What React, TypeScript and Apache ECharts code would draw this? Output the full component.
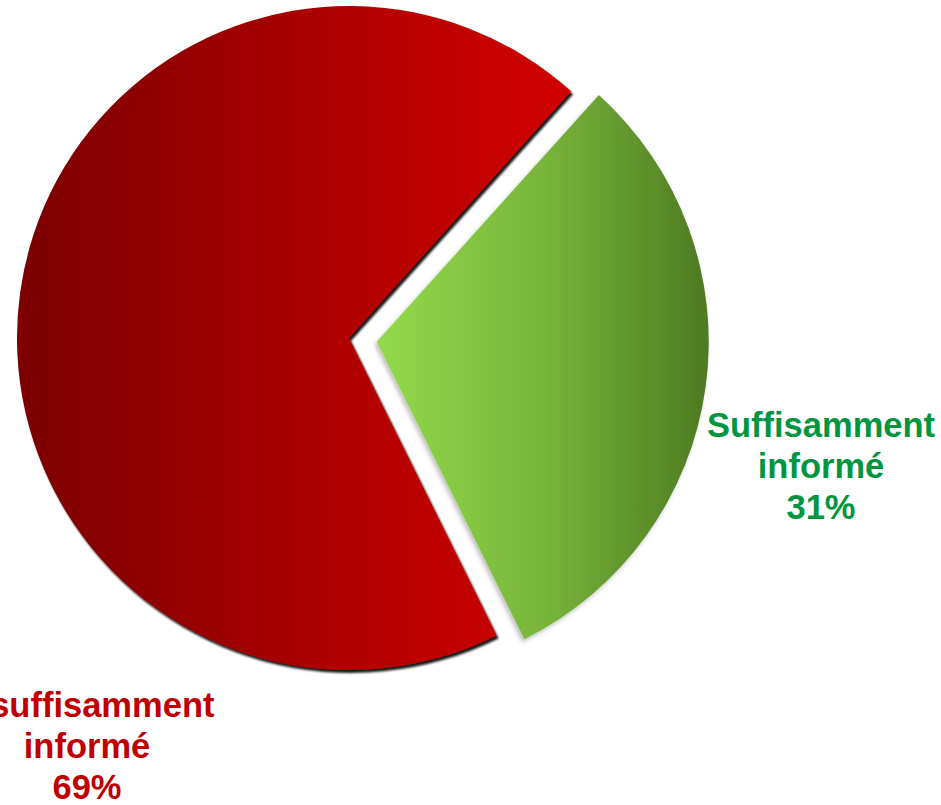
import React, { useEffect, useRef } from "react";
import * as echarts from "echarts";

const categories: string[] = ["Suffisamment informé", "Insuffisamment informé"];
const values: number[] = [31, 69];
const labelColors: string[] = ["#00953f", "#c00000"];

export default function App() {
  const ref = useRef<HTMLDivElement>(null);
  useEffect(() => {
    document.body.style.margin = "0";
    const chart = echarts.init(ref.current!, undefined, { renderer: "svg" });
    const fills = [
      new echarts.graphic.LinearGradient(0, 0, 1, 0, [
        { offset: 0, color: "#93da4c" },
        { offset: 0.5, color: "#78b53a" },
        { offset: 1, color: "#4d7a22" },
      ]),
      new echarts.graphic.LinearGradient(0, 0, 1, 0, [
        { offset: 0, color: "#7a0000" },
        { offset: 0.5, color: "#a80000" },
        { offset: 1, color: "#d20000" },
      ]),
    ];
    const shadows = [
      { shadowColor: "rgba(0,0,0,0.25)", shadowBlur: 4, shadowOffsetX: -2, shadowOffsetY: 3 },
      { shadowColor: "rgba(0,0,0,0.9)", shadowBlur: 2, shadowOffsetX: 2, shadowOffsetY: 3 },
    ];
    const labelPos = [
      [821, 466],
      [87, 746],
    ];
    chart.setOption({
      animation: false,
      graphic: categories.map((name, i) => ({
        type: "text",
        x: labelPos[i][0],
        y: labelPos[i][1],
        z: 100,
        style: {
          text: name.replace(" ", "\n") + "\n" + values[i] + "%",
          fill: labelColors[i],
          font: "bold 34.5px 'Liberation Sans'",
          lineHeight: 41,
          align: "center",
          verticalAlign: "middle",
        },
      })),
      series: [
        {
          type: "pie",
          center: [349, 338],
          radius: 332,
          startAngle: 48,
          clockwise: true,
          selectedMode: "single",
          selectedOffset: 28,
          emphasis: { disabled: true },
          data: categories.map((name, i) => ({
            name,
            value: values[i],
            selected: i === 0,
            itemStyle: { color: fills[i], borderWidth: 0, ...shadows[i] },
          })),
          label: { show: false },
          labelLine: { show: false },
        },
      ],
    });
    return () => chart.dispose();
  }, []);
  return <div ref={ref} style={{ width: 941, height: 805 }} />;
}
